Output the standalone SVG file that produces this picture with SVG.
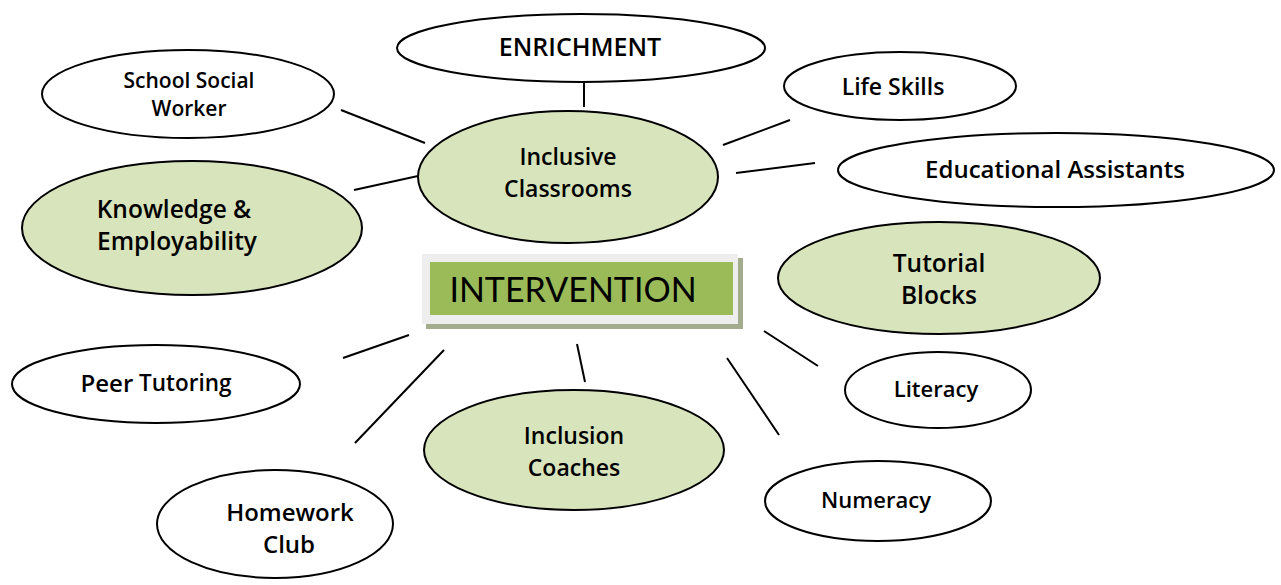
<svg xmlns="http://www.w3.org/2000/svg" width="1281" height="585" viewBox="0 0 1281 585">
<style>
.w{fill:#ffffff;stroke:#000;stroke-width:2}
.g{fill:#d8e4bc;stroke:#000;stroke-width:2}
.t{font-family:"Open Sans",Lato,sans-serif;font-weight:600;fill:#000;text-anchor:middle;dominant-baseline:central}
.c line{stroke:#000;stroke-width:2}
</style>
<rect width="1281" height="585" fill="#fff"/>
<g class="c" id="connectors">
<line x1="584" y1="82" x2="584" y2="107"/>
<line x1="341" y1="110" x2="425" y2="143"/>
<line x1="354" y1="190" x2="418" y2="176"/>
<line x1="723" y1="145" x2="790" y2="120"/>
<line x1="736" y1="173" x2="815" y2="163"/>
<line x1="343" y1="358" x2="409" y2="335"/>
<line x1="355" y1="443" x2="444" y2="350"/>
<line x1="577" y1="344" x2="585" y2="382"/>
<line x1="727" y1="358" x2="779" y2="435"/>
<line x1="764" y1="331" x2="818" y2="366"/>
</g>
<g id="enrichment"><ellipse class="w" cx="581" cy="48" rx="184" ry="34"/><text class="t" x="580" y="46" font-size="25">ENRICHMENT</text></g>
<g id="social-worker"><ellipse class="w" cx="188" cy="94" rx="146" ry="44"/><text class="t" x="189" y="80" font-size="21">School Social</text><text class="t" x="189" y="108" font-size="21">Worker</text></g>
<g id="life-skills"><ellipse class="w" cx="900" cy="86" rx="116" ry="34"/><text class="t" x="893" y="86" font-size="23">Life Skills</text></g>
<g id="inclusive"><ellipse class="g" cx="568" cy="177" rx="150" ry="66"/><text class="t" x="568" y="156" font-size="23">Inclusive</text><text class="t" x="568" y="188" font-size="23">Classrooms</text></g>
<g id="educational"><ellipse class="w" cx="1056" cy="170" rx="218" ry="37"/><text class="t" x="1055" y="168" font-size="24">Educational Assistants</text></g>
<g id="knowledge"><ellipse class="g" cx="192" cy="228" rx="170" ry="67"/><text class="t" x="174" y="208" font-size="24.5">Knowledge &amp;</text><text class="t" x="177" y="240" font-size="24.5">Employability</text></g>
<g id="tutorial"><ellipse class="g" cx="939" cy="278" rx="161" ry="56"/><text class="t" x="939" y="262" font-size="24.5">Tutorial</text><text class="t" x="939" y="294" font-size="24.5">Blocks</text></g>
<g id="intervention">
<rect x="426" y="258" width="317" height="71" fill="#a3ac8c"/>
<rect x="422" y="254" width="316" height="70" fill="#eeeeee"/>
<rect x="430" y="262" width="303" height="53" fill="#9bbb59"/>
<text class="t" x="573" y="288" font-size="34" style="font-family:Lato,sans-serif;font-weight:400">INTERVENTION</text>
</g>
<g id="peer"><ellipse class="w" cx="156" cy="384" rx="144" ry="39"/><text class="t" x="156" y="382" font-size="22.5"><tspan font-size="24">Peer</tspan> Tutoring</text></g>
<g id="literacy"><ellipse class="w" cx="938" cy="390" rx="93" ry="38"/><text class="t" x="936" y="388" font-size="22">Literacy</text></g>
<g id="coaches"><ellipse class="g" cx="574" cy="450" rx="150" ry="60"/><text class="t" x="574" y="435" font-size="23">Inclusion</text><text class="t" x="574" y="467" font-size="23">Coaches</text></g>
<g id="numeracy"><ellipse class="w" cx="878" cy="501" rx="113" ry="40"/><text class="t" x="876" y="499" font-size="22">Numeracy</text></g>
<g id="homework"><ellipse class="w" cx="275" cy="524" rx="118" ry="54"/><text class="t" x="290" y="511" font-size="24">Homework</text><text class="t" x="289" y="543" font-size="24">Club</text></g>
</svg>
